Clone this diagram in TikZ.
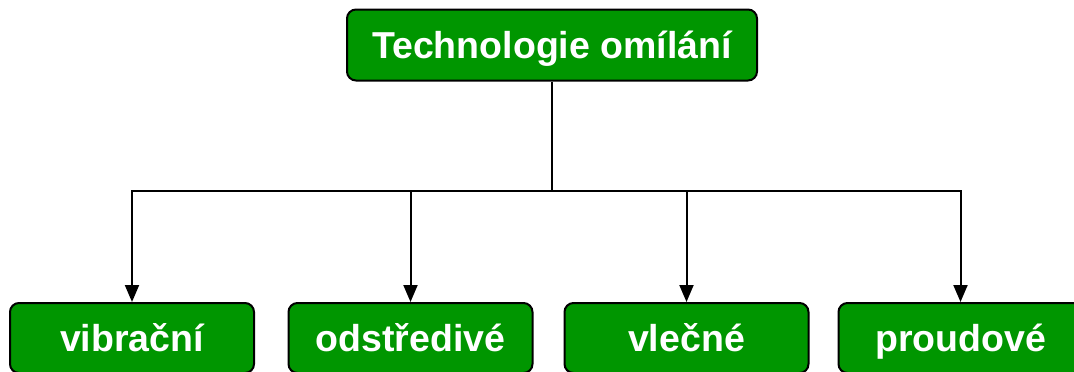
\documentclass[tikz,border=0pt]{standalone}
\usepackage{fontspec}
\setmainfont{Liberation Sans}
\usetikzlibrary{arrows.meta}
\definecolor{boxgreen}{RGB}{0,150,0}

\begin{document}
\begin{tikzpicture}[x=1pt,y=-1pt,line width=2pt,
  box/.style={draw=black,fill=boxgreen,rounded corners=9pt,line width=2pt,
    text=white,font=\fontsize{37.5}{40}\selectfont\bfseries,inner sep=0pt,
    text height=27pt,text depth=0pt},
  conn/.style={-{Triangle[width=14pt,length=17pt]},line width=2pt}]

  \useasboundingbox (0,0) rectangle (1074,372);

  \def\ybus{191}

  % root
  \node[box,minimum width=410pt,minimum height=71pt] (top) at (552,45) {Technologie omílání};
  \coordinate (bus) at (top.south |- 0,\ybus);
  \draw (top.south) -- (bus);

  % children
  \foreach \x/\name [count=\j] in {%
    132/vibrační,%
    410.5/odstředivé,%
    686.5/vlečné,%
    960.5/proudové%
  } {
    \node[box,minimum width=244pt,minimum height=70pt] (c\j) at (\x,338) {\name};
    \draw[conn] (bus) -| (c\j.north);
  }

\end{tikzpicture}
\end{document}
